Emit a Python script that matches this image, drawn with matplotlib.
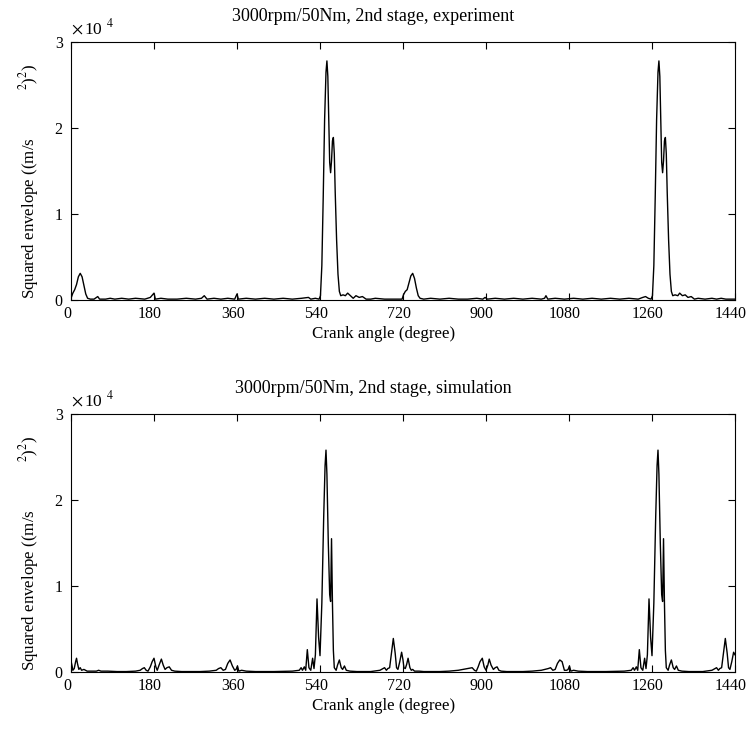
import matplotlib
matplotlib.use("Agg")
import matplotlib.pyplot as plt
import matplotlib.transforms as mtransforms
import numpy as np

plt.rcParams['font.family'] = ['Liberation Serif', 'DejaVu Serif']
plt.rcParams['mathtext.fontset'] = 'stix'

# ---------------- data: (crank angle [deg], squared envelope [x1e4 (m/s^2)^2]) ----------------
exp_points = [
    (0, 0.02), (4, 0.08), (8, 0.12), (12, 0.18), (16, 0.27), (20, 0.31), (24, 0.27), (28, 0.17),
    (32, 0.07), (36, 0.02), (42, 0.01), (50, 0.01), (58, 0.04), (62, 0.01), (75, 0.01),
    (85, 0.02), (95, 0.01), (110, 0.02), (125, 0.01), (140, 0.02), (160, 0.01), (172, 0.03),
    (180, 0.08), (183, 0.01), (195, 0.02), (210, 0.01), (230, 0.01), (250, 0.02), (270, 0.01),
    (283, 0.02), (289, 0.05), (295, 0.01), (310, 0.02), (325, 0.01), (340, 0.02), (355, 0.01),
    (360, 0.07), (363, 0.01), (380, 0.02), (400, 0.01), (420, 0.02), (440, 0.01), (460, 0.02),
    (480, 0.01), (500, 0.02), (515, 0.03), (520, 0.01), (530, 0.02), (538, 0.01),
    (541, 0.05), (544, 0.40), (547, 1.20), (550, 2.10), (553, 2.65), (555, 2.78), (557, 2.60),
    (559, 2.10), (561, 1.60), (563, 1.48), (565, 1.62), (567, 1.85), (569, 1.89), (571, 1.70),
    (573, 1.25), (576, 0.70), (579, 0.30), (582, 0.10), (585, 0.05), (590, 0.06), (595, 0.05),
    (600, 0.08), (606, 0.05), (612, 0.02), (618, 0.05), (625, 0.03), (632, 0.04), (640, 0.01),
    (650, 0.01), (660, 0.02), (680, 0.01), (700, 0.01), (718, 0.01),
    (721, 0.06), (725, 0.10), (729, 0.12), (733, 0.20), (737, 0.28), (741, 0.31), (745, 0.25),
    (749, 0.14), (753, 0.05), (757, 0.02), (765, 0.01), (780, 0.02), (800, 0.01), (820, 0.02),
    (840, 0.01), (860, 0.01), (880, 0.02), (893, 0.01), (898, 0.03), (903, 0.01), (920, 0.02),
    (940, 0.01), (960, 0.02), (980, 0.01), (1000, 0.02), (1020, 0.01), (1027, 0.02),
    (1030, 0.05), (1034, 0.01), (1050, 0.02), (1070, 0.01), (1090, 0.02), (1110, 0.01),
    (1130, 0.02), (1150, 0.01), (1170, 0.02), (1190, 0.01), (1210, 0.02), (1230, 0.01),
    (1240, 0.03), (1246, 0.04), (1252, 0.02), (1258, 0.01),
    (1261, 0.05), (1264, 0.40), (1267, 1.20), (1270, 2.10), (1273, 2.65), (1275, 2.78),
    (1277, 2.60), (1279, 2.10), (1281, 1.60), (1283, 1.48), (1285, 1.62), (1287, 1.85),
    (1289, 1.89), (1291, 1.70), (1293, 1.25), (1296, 0.70), (1299, 0.30), (1302, 0.10),
    (1305, 0.05), (1310, 0.06), (1316, 0.05), (1320, 0.08), (1326, 0.05), (1332, 0.06),
    (1338, 0.03), (1345, 0.04), (1352, 0.01), (1360, 0.02), (1375, 0.01), (1390, 0.02),
    (1400, 0.01), (1410, 0.02), (1420, 0.01), (1430, 0.01), (1440, 0.01),
]

sim_points = [
    (0, 0.13), (2, 0.08), (4, 0.02), (7, 0.04), (10, 0.12), (12, 0.16), (14, 0.10), (17, 0.03),
    (20, 0.05), (23, 0.02), (28, 0.03), (35, 0.01), (45, 0.01), (55, 0.01), (60, 0.02),
    (65, 0.01), (80, 0.01), (100, 0.005), (120, 0.005), (140, 0.01), (150, 0.02), (155, 0.04),
    (159, 0.05), (163, 0.02), (167, 0.01), (172, 0.06), (176, 0.12), (180, 0.16), (184, 0.06),
    (187, 0.02), (191, 0.08), (196, 0.15), (200, 0.08), (204, 0.03), (208, 0.05), (213, 0.06),
    (218, 0.02), (225, 0.01), (240, 0.005), (260, 0.005), (280, 0.005), (300, 0.01),
    (315, 0.02), (320, 0.04), (325, 0.05), (330, 0.02), (335, 0.03), (340, 0.10), (345, 0.14),
    (350, 0.07), (355, 0.02), (358, 0.03), (361, 0.07), (364, 0.01), (370, 0.02), (380, 0.01),
    (400, 0.005), (440, 0.005), (480, 0.01), (495, 0.02), (499, 0.05), (502, 0.02),
    (506, 0.06), (509, 0.02), (512.5, 0.26), (516, 0.05), (520, 0.02), (524, 0.16),
    (527, 0.04), (530, 0.20), (533.5, 0.85), (537, 0.40), (540, 0.19), (544, 0.80),
    (548, 1.80), (551, 2.40), (553, 2.58), (555, 2.30), (558, 1.50), (561, 0.90), (563, 0.82),
    (565, 1.55), (567, 0.80), (569, 0.25), (571, 0.05), (575, 0.02), (578, 0.08), (582, 0.14),
    (586, 0.05), (589, 0.03), (593, 0.07), (597, 0.02), (605, 0.01), (620, 0.005),
    (650, 0.005), (670, 0.02), (680, 0.05), (684, 0.02), (687, 0.04), (691, 0.05),
    (695, 0.22), (699, 0.39), (703, 0.22), (706, 0.05), (709, 0.03), (713, 0.12), (717, 0.23),
    (720, 0.14), (722, 0.05), (725, 0.04), (728, 0.09), (731, 0.16), (735, 0.05), (738, 0.02),
    (741, 0.03), (745, 0.01), (755, 0.01), (765, 0.005), (785, 0.005), (800, 0.005),
    (820, 0.01), (840, 0.02), (860, 0.04), (870, 0.05), (875, 0.02), (879, 0.01), (883, 0.06),
    (887, 0.12), (892, 0.16), (896, 0.06), (900, 0.02), (904, 0.08), (907, 0.15), (911, 0.08),
    (916, 0.03), (920, 0.05), (924, 0.06), (928, 0.02), (933, 0.01), (945, 0.005),
    (960, 0.005), (980, 0.005), (1000, 0.01), (1020, 0.02), (1035, 0.04), (1040, 0.05),
    (1045, 0.02), (1050, 0.03), (1055, 0.10), (1060, 0.14), (1065, 0.12), (1070, 0.02),
    (1075, 0.02), (1078, 0.03), (1081, 0.07), (1084, 0.01), (1090, 0.02), (1100, 0.01),
    (1120, 0.005), (1160, 0.005), (1200, 0.01), (1215, 0.02), (1219, 0.05), (1222, 0.02),
    (1226, 0.06), (1229, 0.02), (1232.5, 0.26), (1236, 0.05), (1240, 0.02), (1244, 0.16),
    (1247, 0.04), (1250, 0.20), (1253.5, 0.85), (1257, 0.40), (1260, 0.19), (1264, 0.80),
    (1268, 1.80), (1271, 2.40), (1273, 2.58), (1275, 2.30), (1278, 1.50), (1281, 0.90),
    (1283, 0.82), (1285, 1.55), (1287, 0.80), (1289, 0.25), (1291, 0.05), (1295, 0.02),
    (1298, 0.08), (1302, 0.14), (1306, 0.05), (1309, 0.03), (1313, 0.07), (1317, 0.02),
    (1325, 0.01), (1340, 0.005), (1370, 0.005), (1390, 0.02), (1400, 0.05), (1404, 0.02),
    (1407, 0.04), (1411, 0.05), (1415, 0.22), (1419, 0.39), (1423, 0.22), (1426, 0.05),
    (1429, 0.03), (1433, 0.12), (1437, 0.23), (1440, 0.20),
]

x_ticks = [0, 180, 360, 540, 720, 900, 1080, 1260, 1440]
y_ticks = [0, 1, 2, 3]
scale = 1e4
titles = ['3000rpm/50Nm, 2nd stage, experiment', '3000rpm/50Nm, 2nd stage, simulation']
xlabel = 'Crank angle (degree)'
ylabel = r'Squared envelope ((m/s$\qquad\qquad$$^{2}$)$^{2}$)'

# ---------------- figure ----------------
fig = plt.figure(figsize=(7.48, 7.31), dpi=100)
W, H = 748, 731
left, right = 71, 735
panels = [(42, 300), (414, 672)]
shift_left = mtransforms.ScaledTranslation(-4 / 100, 0, fig.dpi_scale_trans)

for (top, bot), pts, ttl in zip(panels, [exp_points, sim_points], titles):
    ang = [p[0] for p in pts]
    val = np.array([p[1] for p in pts]) * scale
    ax = fig.add_axes([left / W, 1 - bot / H, (right - left) / W, (bot - top) / H])
    ax.plot(ang, val, color='black', lw=1.0)
    ax.set_xlim(0, 1440)
    ax.set_ylim(0, 3 * scale)
    ax.set_xticks(x_ticks)
    ax.set_xticklabels([str(t) for t in x_ticks])
    ax.set_yticks([t * scale for t in y_ticks])
    ax.set_yticklabels([str(t) for t in y_ticks])
    ax.tick_params(direction='in', top=True, right=True, length=5, width=0.8,
                   labelsize=11.5, pad=6)
    ax.tick_params(axis='x', pad=4)
    for lab in ax.get_xticklabels():
        lab.set_transform(lab.get_transform() + shift_left)
    for s in ax.spines.values():
        s.set_linewidth(0.8)
    ax.set_title(ttl, fontsize=13, pad=15, x=0.455)
    ax.set_xlabel(xlabel, fontsize=12.2)
    ax.xaxis.set_label_coords(0.471, -0.1)
    ax.set_ylabel(ylabel, fontsize=12.2)
    ax.yaxis.set_label_coords(-0.045, 0.46)
    ax.text(0.0, 1.015, r'$\times\,$10$^{\;\;4}$', transform=ax.transAxes, fontsize=12.5,
            ha='left', va='bottom')

fig.savefig('out.png', dpi=100)
